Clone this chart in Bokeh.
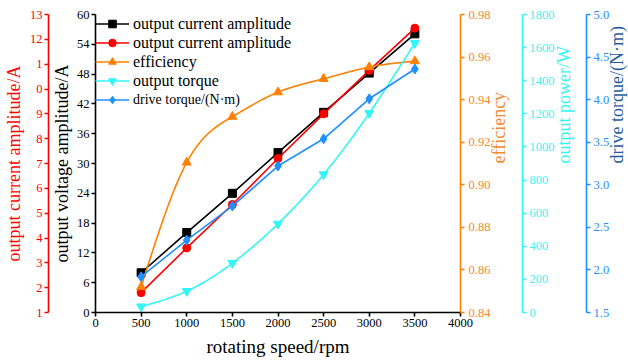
import math
import numpy as np
from bokeh.plotting import figure
from bokeh.models import (Range1d, LinearAxis, SingleIntervalTicker, NumeralTickFormatter,
                          Legend, LegendItem, FixedTicker)
from bokeh.embed import file_html
from bokeh.resources import INLINE

# ---- data ----
speed = [500, 1000, 1500, 2000, 2500, 3000, 3500]
voltage_amp = [8.0, 16.1, 24.0, 32.2, 40.3, 48.2, 56.1]          # black, left inner axis
current_amp = [1.8, 3.6, 5.35, 7.2, 9.0, 10.75, 12.45]           # red, left outer axis
efficiency = [0.852, 0.9105, 0.932, 0.9435, 0.9498, 0.9553, 0.9581]
output_power = [36, 129, 298, 536, 834, 1204, 1627]
drive_torque = [1.92, 2.35, 2.75, 3.22, 3.54, 4.01, 4.36]

x_ticks = [0, 500, 1000, 1500, 2000, 2500, 3000, 3500, 4000]
legend_labels = ["output current amplitude", "output current amplitude", "efficiency",
                 "output torque", "drive torque/(N\u00b7m)"]

FONT = "Liberation Serif"
RED = "#FF0000"
BLACK = "#000000"
ORANGE = "#FF8000"
ORANGE_TXT = "#F28A2E"
CYAN = "#33F5F5"
CYAN_TXT = "#45F0F0"
BLUE = "#1E90FF"
BLUE_LBL = "#1F5E9E"

FW, FH = 365, 298


def natural_spline(x, y, n=200):
    x = np.asarray(x, float)
    y = np.asarray(y, float)
    k = len(x)
    h = np.diff(x)
    A = np.zeros((k, k))
    b = np.zeros(k)
    A[0, 0] = 1
    A[-1, -1] = 1
    for i in range(1, k - 1):
        A[i, i - 1] = h[i - 1]
        A[i, i] = 2 * (h[i - 1] + h[i])
        A[i, i + 1] = h[i]
        b[i] = 6 * ((y[i + 1] - y[i]) / h[i] - (y[i] - y[i - 1]) / h[i - 1])
    M = np.linalg.solve(A, b)
    xs = np.linspace(x[0], x[-1], n)
    ys = np.empty_like(xs)
    for j, xv in enumerate(xs):
        i = min(np.searchsorted(x, xv, side="right") - 1, k - 2)
        t1 = x[i + 1] - xv
        t0 = xv - x[i]
        ys[j] = (M[i] * t1 ** 3 / (6 * h[i]) + M[i + 1] * t0 ** 3 / (6 * h[i])
                 + (y[i] / h[i] - M[i] * h[i] / 6) * t1
                 + (y[i + 1] / h[i] - M[i + 1] * h[i] / 6) * t0)
    return xs, ys


p = figure(frame_width=FW, frame_height=FH, output_backend="svg", toolbar_location=None,
           x_range=Range1d(0, 4000), y_range=Range1d(0, 60),
           min_border_top=14, min_border_left=0, min_border_right=0, min_border_bottom=0)
p.outline_line_color = None
p.xgrid.visible = False
p.ygrid.visible = False

p.extra_y_ranges = {
    "cur": Range1d(1, 13),
    "eff": Range1d(0.84, 0.98),
    "pow": Range1d(0, 1800),
    "tor": Range1d(1.5, 5.0),
}


def style_axis(ax, color, label_color=None, tick_color=None, standoff=2):
    ax.axis_line_color = color
    ax.axis_line_width = 1.6
    ax.major_tick_line_color = color
    ax.major_tick_line_width = 1.6
    ax.major_tick_in = 0
    ax.major_tick_out = 4
    ax.minor_tick_line_color = None
    ax.minor_tick_out = 0
    ax.major_label_text_font = FONT
    ax.major_label_text_font_size = "12.5px"
    ax.major_label_text_color = tick_color or color
    ax.major_label_standoff = standoff
    ax.axis_label_text_font = FONT
    ax.axis_label_text_font_size = "18px"
    ax.axis_label_text_font_style = "normal"
    ax.axis_label_text_color = label_color or color
    ax.axis_label_standoff = 3


# x axis
xa = p.xaxis[0]
xa.ticker = FixedTicker(ticks=x_ticks)
xa.axis_label = "rotating speed/rpm"
style_axis(xa, BLACK)
xa.axis_label_text_font_size = "19px"
xa.axis_label_standoff = 6

# black inner left axis
ya = p.yaxis[0]
ya.ticker = SingleIntervalTicker(interval=6)
ya.axis_label = "output voltage amplitude/A"
style_axis(ya, BLACK)
ya.axis_label_standoff = 2

# red outer left axis
ra = LinearAxis(y_range_name="cur", ticker=SingleIntervalTicker(interval=1),
                axis_label="output current amplitude/A")
style_axis(ra, RED)
ra.major_label_overrides = {11: "1", 10: "0"}
p.add_layout(ra, "left")

# right axes (titles read bottom-to-top)
ea = LinearAxis(y_range_name="eff", ticker=SingleIntervalTicker(interval=0.02),
                formatter=NumeralTickFormatter(format="0.00"), axis_label="efficiency")
style_axis(ea, ORANGE, label_color=ORANGE_TXT, tick_color=ORANGE_TXT, standoff=4)
ea.axis_label_standoff = 6
p.add_layout(ea, "right")

pa = LinearAxis(y_range_name="pow", ticker=SingleIntervalTicker(interval=200),
                axis_label="output power/W")
style_axis(pa, CYAN, tick_color=CYAN_TXT, standoff=3)
pa.axis_label_standoff = 6
p.add_layout(pa, "right")

ta = LinearAxis(y_range_name="tor", ticker=SingleIntervalTicker(interval=0.5),
                formatter=NumeralTickFormatter(format="0.0"), axis_label="drive torque/(N\u00b7m)")
style_axis(ta, BLUE, label_color=BLUE_LBL, standoff=3)
ta.axis_label_standoff = 5
p.add_layout(ta, "right")

for ax in (ea, pa, ta):
    ax.axis_label_orientation = math.pi / 2
    ax.axis_label_text_baseline = "top"

# series
l1 = p.line(speed, voltage_amp, line_color=BLACK, line_width=1.6)
s1 = p.scatter(speed, voltage_amp, marker="square", size=8, color=BLACK)

l2 = p.line(speed, current_amp, line_color=RED, line_width=1.6, y_range_name="cur")
s2 = p.scatter(speed, current_amp, marker="circle", size=8, color=RED, y_range_name="cur")

ex, ey = natural_spline(speed, efficiency)
l3 = p.line(ex, ey, line_color=ORANGE, line_width=1.6, y_range_name="eff")
s3 = p.scatter(speed, efficiency, marker="triangle", size=9, color=ORANGE, y_range_name="eff")

px, py = natural_spline(speed, output_power)
l4 = p.line(px, py, line_color=CYAN, line_width=1.6, y_range_name="pow")
s4 = p.scatter(speed, output_power, marker="inverted_triangle", size=9, color=CYAN, y_range_name="pow")

l5 = p.line(speed, drive_torque, line_color=BLUE, line_width=1.6, y_range_name="tor")
s5 = p.scatter(speed, drive_torque, marker="diamond", size=10, color=BLUE, y_range_name="tor")


def make_legend(items, size, location):
    lg = Legend(items=items, location=location)
    lg.border_line_color = None
    lg.background_fill_alpha = 0
    lg.margin = 0
    lg.padding = 0
    lg.spacing = 0
    lg.glyph_width = 34
    lg.glyph_height = 19
    lg.label_height = 19
    lg.label_standoff = 4
    lg.label_text_font = FONT
    lg.label_text_font_size = size
    lg.label_text_color = BLACK
    return lg


leg1 = make_legend([
    LegendItem(label=legend_labels[0], renderers=[l1, s1]),
    LegendItem(label=legend_labels[1], renderers=[l2, s2]),
    LegendItem(label=legend_labels[2], renderers=[l3, s3]),
    LegendItem(label=legend_labels[3], renderers=[l4, s4]),
], "16px", "top_left")
leg2 = make_legend([
    LegendItem(label=legend_labels[4], renderers=[l5, s5]),
], "14px", (0, FH - 95))
p.add_layout(leg1)
p.add_layout(leg2)

open("out.html", "w").write(file_html(p, INLINE))
